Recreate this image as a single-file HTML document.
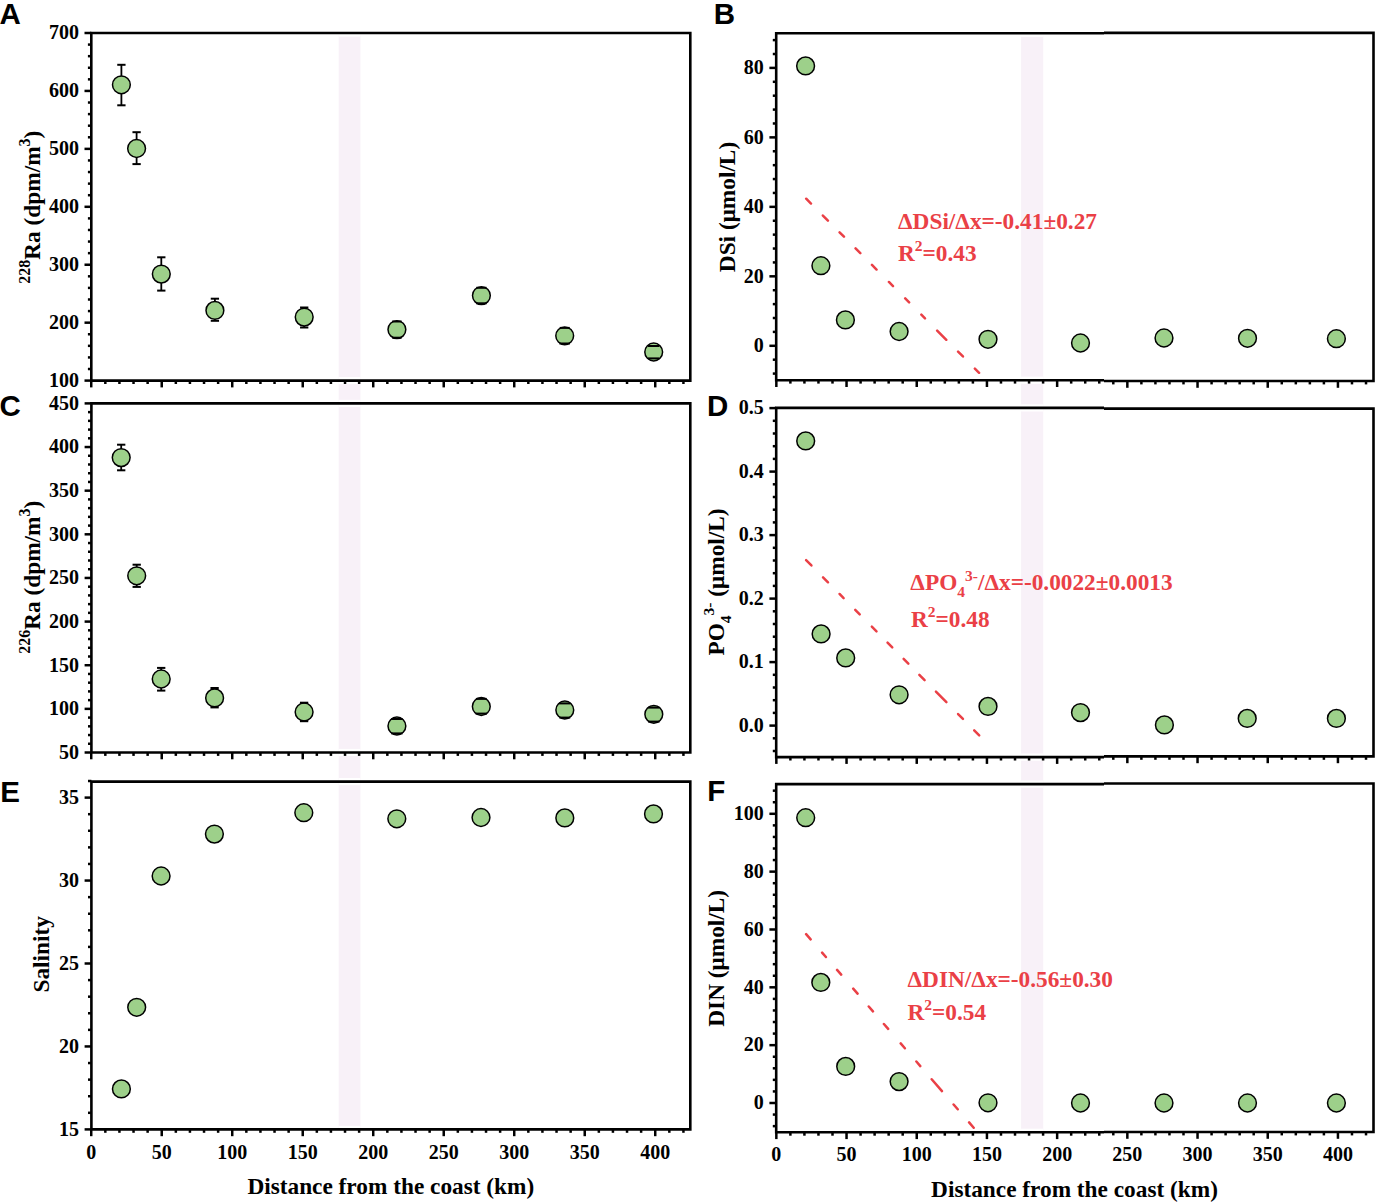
<!DOCTYPE html><html><head><meta charset="utf-8"><title>Figure</title><style>html,body{margin:0;padding:0;background:#fff;}svg{display:block;}</style></head><body>
<svg width="1375" height="1202" viewBox="0 0 1375 1202">
<rect x="0" y="0" width="1375" height="1202" fill="#fff"/>
<rect x="338.7" y="35.5" width="21.7" height="1094" fill="#f8f1f8"/>
<rect x="1021.1" y="35.5" width="22.1" height="1097" fill="#f8f1f8"/>
<rect x="338.7" y="29.4" width="21.7" height="7.2" fill="#fff"/>
<rect x="338.7" y="377" width="21.7" height="7.2" fill="#fff"/>
<rect x="1021.1" y="29.7" width="22.1" height="7.2" fill="#fff"/>
<rect x="1021.1" y="376.6" width="22.1" height="7.2" fill="#fff"/>
<rect x="338.7" y="399.8" width="21.7" height="7.2" fill="#fff"/>
<rect x="338.7" y="748.9" width="21.7" height="7.2" fill="#fff"/>
<rect x="1021.1" y="404.3" width="22.1" height="7.2" fill="#fff"/>
<rect x="1021.1" y="753.5" width="22.1" height="7.2" fill="#fff"/>
<rect x="338.7" y="778" width="21.7" height="7.2" fill="#fff"/>
<rect x="338.7" y="1125.8" width="21.7" height="7.2" fill="#fff"/>
<rect x="1021.1" y="780.5" width="22.1" height="7.2" fill="#fff"/>
<rect x="1021.1" y="1128.7" width="22.1" height="7.2" fill="#fff"/>
<rect x="330" y="1131" width="40" height="80" fill="#fff"/>
<rect x="1015" y="1134" width="40" height="80" fill="#fff"/>
<path d="M91.3 33H690.3V380.6H91.3Z" fill="none" stroke="#000" stroke-width="2.6" stroke-linejoin="miter"/>
<g stroke="#000" stroke-width="2.5" fill="none"><line x1="84.5" y1="380.6" x2="91.3" y2="380.6"/><line x1="87.9" y1="369.01" x2="91.3" y2="369.01"/><line x1="87.9" y1="357.43" x2="91.3" y2="357.43"/><line x1="87.9" y1="345.84" x2="91.3" y2="345.84"/><line x1="87.9" y1="334.25" x2="91.3" y2="334.25"/><line x1="84.5" y1="322.67" x2="91.3" y2="322.67"/><line x1="87.9" y1="311.08" x2="91.3" y2="311.08"/><line x1="87.9" y1="299.49" x2="91.3" y2="299.49"/><line x1="87.9" y1="287.91" x2="91.3" y2="287.91"/><line x1="87.9" y1="276.32" x2="91.3" y2="276.32"/><line x1="84.5" y1="264.73" x2="91.3" y2="264.73"/><line x1="87.9" y1="253.15" x2="91.3" y2="253.15"/><line x1="87.9" y1="241.56" x2="91.3" y2="241.56"/><line x1="87.9" y1="229.97" x2="91.3" y2="229.97"/><line x1="87.9" y1="218.39" x2="91.3" y2="218.39"/><line x1="84.5" y1="206.8" x2="91.3" y2="206.8"/><line x1="87.9" y1="195.21" x2="91.3" y2="195.21"/><line x1="87.9" y1="183.63" x2="91.3" y2="183.63"/><line x1="87.9" y1="172.04" x2="91.3" y2="172.04"/><line x1="87.9" y1="160.45" x2="91.3" y2="160.45"/><line x1="84.5" y1="148.87" x2="91.3" y2="148.87"/><line x1="87.9" y1="137.28" x2="91.3" y2="137.28"/><line x1="87.9" y1="125.69" x2="91.3" y2="125.69"/><line x1="87.9" y1="114.11" x2="91.3" y2="114.11"/><line x1="87.9" y1="102.52" x2="91.3" y2="102.52"/><line x1="84.5" y1="90.93" x2="91.3" y2="90.93"/><line x1="87.9" y1="79.35" x2="91.3" y2="79.35"/><line x1="87.9" y1="67.76" x2="91.3" y2="67.76"/><line x1="87.9" y1="56.17" x2="91.3" y2="56.17"/><line x1="87.9" y1="44.59" x2="91.3" y2="44.59"/><line x1="84.5" y1="33" x2="91.3" y2="33"/><line x1="91.23" y1="380.6" x2="91.23" y2="387.4"/><line x1="105.33" y1="380.6" x2="105.33" y2="384"/><line x1="119.43" y1="380.6" x2="119.43" y2="384"/><line x1="133.53" y1="380.6" x2="133.53" y2="384"/><line x1="147.63" y1="380.6" x2="147.63" y2="384"/><line x1="161.73" y1="380.6" x2="161.73" y2="387.4"/><line x1="175.83" y1="380.6" x2="175.83" y2="384"/><line x1="189.93" y1="380.6" x2="189.93" y2="384"/><line x1="204.03" y1="380.6" x2="204.03" y2="384"/><line x1="218.13" y1="380.6" x2="218.13" y2="384"/><line x1="232.23" y1="380.6" x2="232.23" y2="387.4"/><line x1="246.33" y1="380.6" x2="246.33" y2="384"/><line x1="260.43" y1="380.6" x2="260.43" y2="384"/><line x1="274.53" y1="380.6" x2="274.53" y2="384"/><line x1="288.63" y1="380.6" x2="288.63" y2="384"/><line x1="302.73" y1="380.6" x2="302.73" y2="387.4"/><line x1="316.83" y1="380.6" x2="316.83" y2="384"/><line x1="330.93" y1="380.6" x2="330.93" y2="384"/><line x1="345.03" y1="380.6" x2="345.03" y2="384"/><line x1="359.13" y1="380.6" x2="359.13" y2="384"/><line x1="373.23" y1="380.6" x2="373.23" y2="387.4"/><line x1="387.33" y1="380.6" x2="387.33" y2="384"/><line x1="401.43" y1="380.6" x2="401.43" y2="384"/><line x1="415.53" y1="380.6" x2="415.53" y2="384"/><line x1="429.63" y1="380.6" x2="429.63" y2="384"/><line x1="443.73" y1="380.6" x2="443.73" y2="387.4"/><line x1="457.83" y1="380.6" x2="457.83" y2="384"/><line x1="471.93" y1="380.6" x2="471.93" y2="384"/><line x1="486.03" y1="380.6" x2="486.03" y2="384"/><line x1="500.13" y1="380.6" x2="500.13" y2="384"/><line x1="514.23" y1="380.6" x2="514.23" y2="387.4"/><line x1="528.33" y1="380.6" x2="528.33" y2="384"/><line x1="542.43" y1="380.6" x2="542.43" y2="384"/><line x1="556.53" y1="380.6" x2="556.53" y2="384"/><line x1="570.63" y1="380.6" x2="570.63" y2="384"/><line x1="584.73" y1="380.6" x2="584.73" y2="387.4"/><line x1="598.83" y1="380.6" x2="598.83" y2="384"/><line x1="612.93" y1="380.6" x2="612.93" y2="384"/><line x1="627.03" y1="380.6" x2="627.03" y2="384"/><line x1="641.13" y1="380.6" x2="641.13" y2="384"/><line x1="655.23" y1="380.6" x2="655.23" y2="387.4"/><line x1="669.33" y1="380.6" x2="669.33" y2="384"/><line x1="683.43" y1="380.6" x2="683.43" y2="384"/></g>
<g font-family='"Liberation Serif", serif' font-weight="bold" font-size="20" text-anchor="end" fill="#000"><text x="78.9" y="39.3">700</text><text x="78.9" y="97.23">600</text><text x="78.9" y="155.17">500</text><text x="78.9" y="213.1">400</text><text x="78.9" y="271.03">300</text><text x="78.9" y="328.97">200</text><text x="78.9" y="386.9">100</text></g>
<path d="M774.9 33.3H1104M1104 32.85H1373.5V381M1374.8 381H1104M1104 380.2H776.2V33.3" fill="none" stroke="#000" stroke-width="2.6" stroke-linejoin="miter"/>
<g stroke="#000" stroke-width="2.5" fill="none"><line x1="772.8" y1="373.59" x2="776.2" y2="373.59"/><line x1="772.8" y1="359.69" x2="776.2" y2="359.69"/><line x1="769.4" y1="345.8" x2="776.2" y2="345.8"/><line x1="772.8" y1="331.9" x2="776.2" y2="331.9"/><line x1="772.8" y1="318.01" x2="776.2" y2="318.01"/><line x1="772.8" y1="304.12" x2="776.2" y2="304.12"/><line x1="772.8" y1="290.22" x2="776.2" y2="290.22"/><line x1="769.4" y1="276.33" x2="776.2" y2="276.33"/><line x1="772.8" y1="262.43" x2="776.2" y2="262.43"/><line x1="772.8" y1="248.53" x2="776.2" y2="248.53"/><line x1="772.8" y1="234.64" x2="776.2" y2="234.64"/><line x1="772.8" y1="220.74" x2="776.2" y2="220.74"/><line x1="769.4" y1="206.85" x2="776.2" y2="206.85"/><line x1="772.8" y1="192.95" x2="776.2" y2="192.95"/><line x1="772.8" y1="179.06" x2="776.2" y2="179.06"/><line x1="772.8" y1="165.16" x2="776.2" y2="165.16"/><line x1="772.8" y1="151.27" x2="776.2" y2="151.27"/><line x1="769.4" y1="137.38" x2="776.2" y2="137.38"/><line x1="772.8" y1="123.48" x2="776.2" y2="123.48"/><line x1="772.8" y1="109.59" x2="776.2" y2="109.59"/><line x1="772.8" y1="95.69" x2="776.2" y2="95.69"/><line x1="772.8" y1="81.8" x2="776.2" y2="81.8"/><line x1="769.4" y1="67.9" x2="776.2" y2="67.9"/><line x1="772.8" y1="54.01" x2="776.2" y2="54.01"/><line x1="772.8" y1="40.11" x2="776.2" y2="40.11"/><line x1="776.34" y1="380.2" x2="776.34" y2="387"/><line x1="790.38" y1="380.2" x2="790.38" y2="383.6"/><line x1="804.42" y1="380.2" x2="804.42" y2="383.6"/><line x1="818.46" y1="380.2" x2="818.46" y2="383.6"/><line x1="832.5" y1="380.2" x2="832.5" y2="383.6"/><line x1="846.54" y1="380.2" x2="846.54" y2="387"/><line x1="860.58" y1="380.2" x2="860.58" y2="383.6"/><line x1="874.62" y1="380.2" x2="874.62" y2="383.6"/><line x1="888.66" y1="380.2" x2="888.66" y2="383.6"/><line x1="902.7" y1="380.2" x2="902.7" y2="383.6"/><line x1="916.74" y1="380.2" x2="916.74" y2="387"/><line x1="930.78" y1="380.2" x2="930.78" y2="383.6"/><line x1="944.82" y1="380.2" x2="944.82" y2="383.6"/><line x1="958.86" y1="380.2" x2="958.86" y2="383.6"/><line x1="972.9" y1="380.2" x2="972.9" y2="383.6"/><line x1="986.94" y1="380.2" x2="986.94" y2="387"/><line x1="1000.98" y1="380.2" x2="1000.98" y2="383.6"/><line x1="1015.02" y1="380.2" x2="1015.02" y2="383.6"/><line x1="1029.06" y1="380.2" x2="1029.06" y2="383.6"/><line x1="1043.1" y1="380.2" x2="1043.1" y2="383.6"/><line x1="1057.14" y1="380.2" x2="1057.14" y2="387"/><line x1="1071.18" y1="380.2" x2="1071.18" y2="383.6"/><line x1="1085.22" y1="380.2" x2="1085.22" y2="383.6"/><line x1="1099.26" y1="380.2" x2="1099.26" y2="383.6"/><line x1="1113.3" y1="381" x2="1113.3" y2="384.4"/><line x1="1127.34" y1="381" x2="1127.34" y2="387.8"/><line x1="1141.38" y1="381" x2="1141.38" y2="384.4"/><line x1="1155.42" y1="381" x2="1155.42" y2="384.4"/><line x1="1169.46" y1="381" x2="1169.46" y2="384.4"/><line x1="1183.5" y1="381" x2="1183.5" y2="384.4"/><line x1="1197.54" y1="381" x2="1197.54" y2="387.8"/><line x1="1211.58" y1="381" x2="1211.58" y2="384.4"/><line x1="1225.62" y1="381" x2="1225.62" y2="384.4"/><line x1="1239.66" y1="381" x2="1239.66" y2="384.4"/><line x1="1253.7" y1="381" x2="1253.7" y2="384.4"/><line x1="1267.74" y1="381" x2="1267.74" y2="387.8"/><line x1="1281.78" y1="381" x2="1281.78" y2="384.4"/><line x1="1295.82" y1="381" x2="1295.82" y2="384.4"/><line x1="1309.86" y1="381" x2="1309.86" y2="384.4"/><line x1="1323.9" y1="381" x2="1323.9" y2="384.4"/><line x1="1337.94" y1="381" x2="1337.94" y2="387.8"/><line x1="1351.98" y1="381" x2="1351.98" y2="384.4"/><line x1="1366.02" y1="381" x2="1366.02" y2="384.4"/></g>
<g font-family='"Liberation Serif", serif' font-weight="bold" font-size="20" text-anchor="end" fill="#000"><text x="763.8" y="74.2">80</text><text x="763.8" y="143.68">60</text><text x="763.8" y="213.15">40</text><text x="763.8" y="282.63">20</text><text x="763.8" y="352.1">0</text></g>
<path d="M91.4 403.4H690.3V752.5H91.4Z" fill="none" stroke="#000" stroke-width="2.6" stroke-linejoin="miter"/>
<g stroke="#000" stroke-width="2.5" fill="none"><line x1="84.6" y1="752.5" x2="91.4" y2="752.5"/><line x1="88" y1="743.77" x2="91.4" y2="743.77"/><line x1="88" y1="735.04" x2="91.4" y2="735.04"/><line x1="88" y1="726.32" x2="91.4" y2="726.32"/><line x1="88" y1="717.59" x2="91.4" y2="717.59"/><line x1="84.6" y1="708.86" x2="91.4" y2="708.86"/><line x1="88" y1="700.13" x2="91.4" y2="700.13"/><line x1="88" y1="691.41" x2="91.4" y2="691.41"/><line x1="88" y1="682.68" x2="91.4" y2="682.68"/><line x1="88" y1="673.95" x2="91.4" y2="673.95"/><line x1="84.6" y1="665.22" x2="91.4" y2="665.22"/><line x1="88" y1="656.5" x2="91.4" y2="656.5"/><line x1="88" y1="647.77" x2="91.4" y2="647.77"/><line x1="88" y1="639.04" x2="91.4" y2="639.04"/><line x1="88" y1="630.31" x2="91.4" y2="630.31"/><line x1="84.6" y1="621.59" x2="91.4" y2="621.59"/><line x1="88" y1="612.86" x2="91.4" y2="612.86"/><line x1="88" y1="604.13" x2="91.4" y2="604.13"/><line x1="88" y1="595.4" x2="91.4" y2="595.4"/><line x1="88" y1="586.68" x2="91.4" y2="586.68"/><line x1="84.6" y1="577.95" x2="91.4" y2="577.95"/><line x1="88" y1="569.22" x2="91.4" y2="569.22"/><line x1="88" y1="560.5" x2="91.4" y2="560.5"/><line x1="88" y1="551.77" x2="91.4" y2="551.77"/><line x1="88" y1="543.04" x2="91.4" y2="543.04"/><line x1="84.6" y1="534.31" x2="91.4" y2="534.31"/><line x1="88" y1="525.59" x2="91.4" y2="525.59"/><line x1="88" y1="516.86" x2="91.4" y2="516.86"/><line x1="88" y1="508.13" x2="91.4" y2="508.13"/><line x1="88" y1="499.4" x2="91.4" y2="499.4"/><line x1="84.6" y1="490.67" x2="91.4" y2="490.67"/><line x1="88" y1="481.95" x2="91.4" y2="481.95"/><line x1="88" y1="473.22" x2="91.4" y2="473.22"/><line x1="88" y1="464.49" x2="91.4" y2="464.49"/><line x1="88" y1="455.76" x2="91.4" y2="455.76"/><line x1="84.6" y1="447.04" x2="91.4" y2="447.04"/><line x1="88" y1="438.31" x2="91.4" y2="438.31"/><line x1="88" y1="429.58" x2="91.4" y2="429.58"/><line x1="88" y1="420.85" x2="91.4" y2="420.85"/><line x1="88" y1="412.13" x2="91.4" y2="412.13"/><line x1="84.6" y1="403.4" x2="91.4" y2="403.4"/><line x1="91.23" y1="752.5" x2="91.23" y2="759.3"/><line x1="105.33" y1="752.5" x2="105.33" y2="755.9"/><line x1="119.43" y1="752.5" x2="119.43" y2="755.9"/><line x1="133.53" y1="752.5" x2="133.53" y2="755.9"/><line x1="147.63" y1="752.5" x2="147.63" y2="755.9"/><line x1="161.73" y1="752.5" x2="161.73" y2="759.3"/><line x1="175.83" y1="752.5" x2="175.83" y2="755.9"/><line x1="189.93" y1="752.5" x2="189.93" y2="755.9"/><line x1="204.03" y1="752.5" x2="204.03" y2="755.9"/><line x1="218.13" y1="752.5" x2="218.13" y2="755.9"/><line x1="232.23" y1="752.5" x2="232.23" y2="759.3"/><line x1="246.33" y1="752.5" x2="246.33" y2="755.9"/><line x1="260.43" y1="752.5" x2="260.43" y2="755.9"/><line x1="274.53" y1="752.5" x2="274.53" y2="755.9"/><line x1="288.63" y1="752.5" x2="288.63" y2="755.9"/><line x1="302.73" y1="752.5" x2="302.73" y2="759.3"/><line x1="316.83" y1="752.5" x2="316.83" y2="755.9"/><line x1="330.93" y1="752.5" x2="330.93" y2="755.9"/><line x1="345.03" y1="752.5" x2="345.03" y2="755.9"/><line x1="359.13" y1="752.5" x2="359.13" y2="755.9"/><line x1="373.23" y1="752.5" x2="373.23" y2="759.3"/><line x1="387.33" y1="752.5" x2="387.33" y2="755.9"/><line x1="401.43" y1="752.5" x2="401.43" y2="755.9"/><line x1="415.53" y1="752.5" x2="415.53" y2="755.9"/><line x1="429.63" y1="752.5" x2="429.63" y2="755.9"/><line x1="443.73" y1="752.5" x2="443.73" y2="759.3"/><line x1="457.83" y1="752.5" x2="457.83" y2="755.9"/><line x1="471.93" y1="752.5" x2="471.93" y2="755.9"/><line x1="486.03" y1="752.5" x2="486.03" y2="755.9"/><line x1="500.13" y1="752.5" x2="500.13" y2="755.9"/><line x1="514.23" y1="752.5" x2="514.23" y2="759.3"/><line x1="528.33" y1="752.5" x2="528.33" y2="755.9"/><line x1="542.43" y1="752.5" x2="542.43" y2="755.9"/><line x1="556.53" y1="752.5" x2="556.53" y2="755.9"/><line x1="570.63" y1="752.5" x2="570.63" y2="755.9"/><line x1="584.73" y1="752.5" x2="584.73" y2="759.3"/><line x1="598.83" y1="752.5" x2="598.83" y2="755.9"/><line x1="612.93" y1="752.5" x2="612.93" y2="755.9"/><line x1="627.03" y1="752.5" x2="627.03" y2="755.9"/><line x1="641.13" y1="752.5" x2="641.13" y2="755.9"/><line x1="655.23" y1="752.5" x2="655.23" y2="759.3"/><line x1="669.33" y1="752.5" x2="669.33" y2="755.9"/><line x1="683.43" y1="752.5" x2="683.43" y2="755.9"/></g>
<g font-family='"Liberation Serif", serif' font-weight="bold" font-size="20" text-anchor="end" fill="#000"><text x="79" y="409.7">450</text><text x="79" y="453.34">400</text><text x="79" y="496.97">350</text><text x="79" y="540.61">300</text><text x="79" y="584.25">250</text><text x="79" y="627.89">200</text><text x="79" y="671.52">150</text><text x="79" y="715.16">100</text><text x="79" y="758.8">50</text></g>
<path d="M774.9 407.9H1104M1104 408.6H1373.5V756.4M1374.8 756.4H1104M1104 757.1H776.2V407.9" fill="none" stroke="#000" stroke-width="2.6" stroke-linejoin="miter"/>
<g stroke="#000" stroke-width="2.5" fill="none"><line x1="772.8" y1="751" x2="776.2" y2="751"/><line x1="772.8" y1="738.3" x2="776.2" y2="738.3"/><line x1="769.4" y1="725.6" x2="776.2" y2="725.6"/><line x1="772.8" y1="712.9" x2="776.2" y2="712.9"/><line x1="772.8" y1="700.2" x2="776.2" y2="700.2"/><line x1="772.8" y1="687.5" x2="776.2" y2="687.5"/><line x1="772.8" y1="674.8" x2="776.2" y2="674.8"/><line x1="769.4" y1="662.1" x2="776.2" y2="662.1"/><line x1="772.8" y1="649.4" x2="776.2" y2="649.4"/><line x1="772.8" y1="636.7" x2="776.2" y2="636.7"/><line x1="772.8" y1="624" x2="776.2" y2="624"/><line x1="772.8" y1="611.3" x2="776.2" y2="611.3"/><line x1="769.4" y1="598.6" x2="776.2" y2="598.6"/><line x1="772.8" y1="585.9" x2="776.2" y2="585.9"/><line x1="772.8" y1="573.2" x2="776.2" y2="573.2"/><line x1="772.8" y1="560.5" x2="776.2" y2="560.5"/><line x1="772.8" y1="547.8" x2="776.2" y2="547.8"/><line x1="769.4" y1="535.1" x2="776.2" y2="535.1"/><line x1="772.8" y1="522.4" x2="776.2" y2="522.4"/><line x1="772.8" y1="509.7" x2="776.2" y2="509.7"/><line x1="772.8" y1="497" x2="776.2" y2="497"/><line x1="772.8" y1="484.3" x2="776.2" y2="484.3"/><line x1="769.4" y1="471.6" x2="776.2" y2="471.6"/><line x1="772.8" y1="458.9" x2="776.2" y2="458.9"/><line x1="772.8" y1="446.2" x2="776.2" y2="446.2"/><line x1="772.8" y1="433.5" x2="776.2" y2="433.5"/><line x1="772.8" y1="420.8" x2="776.2" y2="420.8"/><line x1="769.4" y1="408.1" x2="776.2" y2="408.1"/><line x1="776.34" y1="757.1" x2="776.34" y2="763.9"/><line x1="790.38" y1="757.1" x2="790.38" y2="760.5"/><line x1="804.42" y1="757.1" x2="804.42" y2="760.5"/><line x1="818.46" y1="757.1" x2="818.46" y2="760.5"/><line x1="832.5" y1="757.1" x2="832.5" y2="760.5"/><line x1="846.54" y1="757.1" x2="846.54" y2="763.9"/><line x1="860.58" y1="757.1" x2="860.58" y2="760.5"/><line x1="874.62" y1="757.1" x2="874.62" y2="760.5"/><line x1="888.66" y1="757.1" x2="888.66" y2="760.5"/><line x1="902.7" y1="757.1" x2="902.7" y2="760.5"/><line x1="916.74" y1="757.1" x2="916.74" y2="763.9"/><line x1="930.78" y1="757.1" x2="930.78" y2="760.5"/><line x1="944.82" y1="757.1" x2="944.82" y2="760.5"/><line x1="958.86" y1="757.1" x2="958.86" y2="760.5"/><line x1="972.9" y1="757.1" x2="972.9" y2="760.5"/><line x1="986.94" y1="757.1" x2="986.94" y2="763.9"/><line x1="1000.98" y1="757.1" x2="1000.98" y2="760.5"/><line x1="1015.02" y1="757.1" x2="1015.02" y2="760.5"/><line x1="1029.06" y1="757.1" x2="1029.06" y2="760.5"/><line x1="1043.1" y1="757.1" x2="1043.1" y2="760.5"/><line x1="1057.14" y1="757.1" x2="1057.14" y2="763.9"/><line x1="1071.18" y1="757.1" x2="1071.18" y2="760.5"/><line x1="1085.22" y1="757.1" x2="1085.22" y2="760.5"/><line x1="1099.26" y1="757.1" x2="1099.26" y2="760.5"/><line x1="1113.3" y1="756.4" x2="1113.3" y2="759.8"/><line x1="1127.34" y1="756.4" x2="1127.34" y2="763.2"/><line x1="1141.38" y1="756.4" x2="1141.38" y2="759.8"/><line x1="1155.42" y1="756.4" x2="1155.42" y2="759.8"/><line x1="1169.46" y1="756.4" x2="1169.46" y2="759.8"/><line x1="1183.5" y1="756.4" x2="1183.5" y2="759.8"/><line x1="1197.54" y1="756.4" x2="1197.54" y2="763.2"/><line x1="1211.58" y1="756.4" x2="1211.58" y2="759.8"/><line x1="1225.62" y1="756.4" x2="1225.62" y2="759.8"/><line x1="1239.66" y1="756.4" x2="1239.66" y2="759.8"/><line x1="1253.7" y1="756.4" x2="1253.7" y2="759.8"/><line x1="1267.74" y1="756.4" x2="1267.74" y2="763.2"/><line x1="1281.78" y1="756.4" x2="1281.78" y2="759.8"/><line x1="1295.82" y1="756.4" x2="1295.82" y2="759.8"/><line x1="1309.86" y1="756.4" x2="1309.86" y2="759.8"/><line x1="1323.9" y1="756.4" x2="1323.9" y2="759.8"/><line x1="1337.94" y1="756.4" x2="1337.94" y2="763.2"/><line x1="1351.98" y1="756.4" x2="1351.98" y2="759.8"/><line x1="1366.02" y1="756.4" x2="1366.02" y2="759.8"/></g>
<g font-family='"Liberation Serif", serif' font-weight="bold" font-size="20" text-anchor="end" fill="#000"><text x="763.8" y="414.4">0.5</text><text x="763.8" y="477.9">0.4</text><text x="763.8" y="541.4">0.3</text><text x="763.8" y="604.9">0.2</text><text x="763.8" y="668.4">0.1</text><text x="763.8" y="731.9">0.0</text></g>
<path d="M91.4 781.6H690.3V1129.4H91.4Z" fill="none" stroke="#000" stroke-width="2.6" stroke-linejoin="miter"/>
<g stroke="#000" stroke-width="2.5" fill="none"><line x1="84.6" y1="1129.4" x2="91.4" y2="1129.4"/><line x1="88" y1="1112.81" x2="91.4" y2="1112.81"/><line x1="88" y1="1096.22" x2="91.4" y2="1096.22"/><line x1="88" y1="1079.63" x2="91.4" y2="1079.63"/><line x1="88" y1="1063.04" x2="91.4" y2="1063.04"/><line x1="84.6" y1="1046.45" x2="91.4" y2="1046.45"/><line x1="88" y1="1029.86" x2="91.4" y2="1029.86"/><line x1="88" y1="1013.27" x2="91.4" y2="1013.27"/><line x1="88" y1="996.68" x2="91.4" y2="996.68"/><line x1="88" y1="980.09" x2="91.4" y2="980.09"/><line x1="84.6" y1="963.5" x2="91.4" y2="963.5"/><line x1="88" y1="946.91" x2="91.4" y2="946.91"/><line x1="88" y1="930.32" x2="91.4" y2="930.32"/><line x1="88" y1="913.73" x2="91.4" y2="913.73"/><line x1="88" y1="897.14" x2="91.4" y2="897.14"/><line x1="84.6" y1="880.55" x2="91.4" y2="880.55"/><line x1="88" y1="863.96" x2="91.4" y2="863.96"/><line x1="88" y1="847.37" x2="91.4" y2="847.37"/><line x1="88" y1="830.78" x2="91.4" y2="830.78"/><line x1="88" y1="814.19" x2="91.4" y2="814.19"/><line x1="84.6" y1="797.6" x2="91.4" y2="797.6"/><line x1="88" y1="781.01" x2="91.4" y2="781.01"/><line x1="91.23" y1="1129.4" x2="91.23" y2="1136.2"/><line x1="105.33" y1="1129.4" x2="105.33" y2="1132.8"/><line x1="119.43" y1="1129.4" x2="119.43" y2="1132.8"/><line x1="133.53" y1="1129.4" x2="133.53" y2="1132.8"/><line x1="147.63" y1="1129.4" x2="147.63" y2="1132.8"/><line x1="161.73" y1="1129.4" x2="161.73" y2="1136.2"/><line x1="175.83" y1="1129.4" x2="175.83" y2="1132.8"/><line x1="189.93" y1="1129.4" x2="189.93" y2="1132.8"/><line x1="204.03" y1="1129.4" x2="204.03" y2="1132.8"/><line x1="218.13" y1="1129.4" x2="218.13" y2="1132.8"/><line x1="232.23" y1="1129.4" x2="232.23" y2="1136.2"/><line x1="246.33" y1="1129.4" x2="246.33" y2="1132.8"/><line x1="260.43" y1="1129.4" x2="260.43" y2="1132.8"/><line x1="274.53" y1="1129.4" x2="274.53" y2="1132.8"/><line x1="288.63" y1="1129.4" x2="288.63" y2="1132.8"/><line x1="302.73" y1="1129.4" x2="302.73" y2="1136.2"/><line x1="316.83" y1="1129.4" x2="316.83" y2="1132.8"/><line x1="330.93" y1="1129.4" x2="330.93" y2="1132.8"/><line x1="345.03" y1="1129.4" x2="345.03" y2="1132.8"/><line x1="359.13" y1="1129.4" x2="359.13" y2="1132.8"/><line x1="373.23" y1="1129.4" x2="373.23" y2="1136.2"/><line x1="387.33" y1="1129.4" x2="387.33" y2="1132.8"/><line x1="401.43" y1="1129.4" x2="401.43" y2="1132.8"/><line x1="415.53" y1="1129.4" x2="415.53" y2="1132.8"/><line x1="429.63" y1="1129.4" x2="429.63" y2="1132.8"/><line x1="443.73" y1="1129.4" x2="443.73" y2="1136.2"/><line x1="457.83" y1="1129.4" x2="457.83" y2="1132.8"/><line x1="471.93" y1="1129.4" x2="471.93" y2="1132.8"/><line x1="486.03" y1="1129.4" x2="486.03" y2="1132.8"/><line x1="500.13" y1="1129.4" x2="500.13" y2="1132.8"/><line x1="514.23" y1="1129.4" x2="514.23" y2="1136.2"/><line x1="528.33" y1="1129.4" x2="528.33" y2="1132.8"/><line x1="542.43" y1="1129.4" x2="542.43" y2="1132.8"/><line x1="556.53" y1="1129.4" x2="556.53" y2="1132.8"/><line x1="570.63" y1="1129.4" x2="570.63" y2="1132.8"/><line x1="584.73" y1="1129.4" x2="584.73" y2="1136.2"/><line x1="598.83" y1="1129.4" x2="598.83" y2="1132.8"/><line x1="612.93" y1="1129.4" x2="612.93" y2="1132.8"/><line x1="627.03" y1="1129.4" x2="627.03" y2="1132.8"/><line x1="641.13" y1="1129.4" x2="641.13" y2="1132.8"/><line x1="655.23" y1="1129.4" x2="655.23" y2="1136.2"/><line x1="669.33" y1="1129.4" x2="669.33" y2="1132.8"/><line x1="683.43" y1="1129.4" x2="683.43" y2="1132.8"/></g>
<g font-family='"Liberation Serif", serif' font-weight="bold" font-size="20" text-anchor="end" fill="#000"><text x="79" y="803.9">35</text><text x="79" y="886.85">30</text><text x="79" y="969.8">25</text><text x="79" y="1052.75">20</text><text x="79" y="1135.7">15</text></g>
<path d="M774.9 784.1H1104M1104 783.5H1373.5V1132M1374.8 1132H1104M1104 1132.3H776.2V784.1" fill="none" stroke="#000" stroke-width="2.6" stroke-linejoin="miter"/>
<g stroke="#000" stroke-width="2.5" fill="none"><line x1="772.8" y1="1126.14" x2="776.2" y2="1126.14"/><line x1="772.8" y1="1114.57" x2="776.2" y2="1114.57"/><line x1="769.4" y1="1103" x2="776.2" y2="1103"/><line x1="772.8" y1="1091.43" x2="776.2" y2="1091.43"/><line x1="772.8" y1="1079.86" x2="776.2" y2="1079.86"/><line x1="772.8" y1="1068.3" x2="776.2" y2="1068.3"/><line x1="772.8" y1="1056.73" x2="776.2" y2="1056.73"/><line x1="769.4" y1="1045.16" x2="776.2" y2="1045.16"/><line x1="772.8" y1="1033.59" x2="776.2" y2="1033.59"/><line x1="772.8" y1="1022.02" x2="776.2" y2="1022.02"/><line x1="772.8" y1="1010.46" x2="776.2" y2="1010.46"/><line x1="772.8" y1="998.89" x2="776.2" y2="998.89"/><line x1="769.4" y1="987.32" x2="776.2" y2="987.32"/><line x1="772.8" y1="975.75" x2="776.2" y2="975.75"/><line x1="772.8" y1="964.18" x2="776.2" y2="964.18"/><line x1="772.8" y1="952.62" x2="776.2" y2="952.62"/><line x1="772.8" y1="941.05" x2="776.2" y2="941.05"/><line x1="769.4" y1="929.48" x2="776.2" y2="929.48"/><line x1="772.8" y1="917.91" x2="776.2" y2="917.91"/><line x1="772.8" y1="906.34" x2="776.2" y2="906.34"/><line x1="772.8" y1="894.78" x2="776.2" y2="894.78"/><line x1="772.8" y1="883.21" x2="776.2" y2="883.21"/><line x1="769.4" y1="871.64" x2="776.2" y2="871.64"/><line x1="772.8" y1="860.07" x2="776.2" y2="860.07"/><line x1="772.8" y1="848.5" x2="776.2" y2="848.5"/><line x1="772.8" y1="836.94" x2="776.2" y2="836.94"/><line x1="772.8" y1="825.37" x2="776.2" y2="825.37"/><line x1="769.4" y1="813.8" x2="776.2" y2="813.8"/><line x1="772.8" y1="802.23" x2="776.2" y2="802.23"/><line x1="772.8" y1="790.66" x2="776.2" y2="790.66"/><line x1="776.34" y1="1132.3" x2="776.34" y2="1139.1"/><line x1="790.38" y1="1132.3" x2="790.38" y2="1135.7"/><line x1="804.42" y1="1132.3" x2="804.42" y2="1135.7"/><line x1="818.46" y1="1132.3" x2="818.46" y2="1135.7"/><line x1="832.5" y1="1132.3" x2="832.5" y2="1135.7"/><line x1="846.54" y1="1132.3" x2="846.54" y2="1139.1"/><line x1="860.58" y1="1132.3" x2="860.58" y2="1135.7"/><line x1="874.62" y1="1132.3" x2="874.62" y2="1135.7"/><line x1="888.66" y1="1132.3" x2="888.66" y2="1135.7"/><line x1="902.7" y1="1132.3" x2="902.7" y2="1135.7"/><line x1="916.74" y1="1132.3" x2="916.74" y2="1139.1"/><line x1="930.78" y1="1132.3" x2="930.78" y2="1135.7"/><line x1="944.82" y1="1132.3" x2="944.82" y2="1135.7"/><line x1="958.86" y1="1132.3" x2="958.86" y2="1135.7"/><line x1="972.9" y1="1132.3" x2="972.9" y2="1135.7"/><line x1="986.94" y1="1132.3" x2="986.94" y2="1139.1"/><line x1="1000.98" y1="1132.3" x2="1000.98" y2="1135.7"/><line x1="1015.02" y1="1132.3" x2="1015.02" y2="1135.7"/><line x1="1029.06" y1="1132.3" x2="1029.06" y2="1135.7"/><line x1="1043.1" y1="1132.3" x2="1043.1" y2="1135.7"/><line x1="1057.14" y1="1132.3" x2="1057.14" y2="1139.1"/><line x1="1071.18" y1="1132.3" x2="1071.18" y2="1135.7"/><line x1="1085.22" y1="1132.3" x2="1085.22" y2="1135.7"/><line x1="1099.26" y1="1132.3" x2="1099.26" y2="1135.7"/><line x1="1113.3" y1="1132" x2="1113.3" y2="1135.4"/><line x1="1127.34" y1="1132" x2="1127.34" y2="1138.8"/><line x1="1141.38" y1="1132" x2="1141.38" y2="1135.4"/><line x1="1155.42" y1="1132" x2="1155.42" y2="1135.4"/><line x1="1169.46" y1="1132" x2="1169.46" y2="1135.4"/><line x1="1183.5" y1="1132" x2="1183.5" y2="1135.4"/><line x1="1197.54" y1="1132" x2="1197.54" y2="1138.8"/><line x1="1211.58" y1="1132" x2="1211.58" y2="1135.4"/><line x1="1225.62" y1="1132" x2="1225.62" y2="1135.4"/><line x1="1239.66" y1="1132" x2="1239.66" y2="1135.4"/><line x1="1253.7" y1="1132" x2="1253.7" y2="1135.4"/><line x1="1267.74" y1="1132" x2="1267.74" y2="1138.8"/><line x1="1281.78" y1="1132" x2="1281.78" y2="1135.4"/><line x1="1295.82" y1="1132" x2="1295.82" y2="1135.4"/><line x1="1309.86" y1="1132" x2="1309.86" y2="1135.4"/><line x1="1323.9" y1="1132" x2="1323.9" y2="1135.4"/><line x1="1337.94" y1="1132" x2="1337.94" y2="1138.8"/><line x1="1351.98" y1="1132" x2="1351.98" y2="1135.4"/><line x1="1366.02" y1="1132" x2="1366.02" y2="1135.4"/></g>
<g font-family='"Liberation Serif", serif' font-weight="bold" font-size="20" text-anchor="end" fill="#000"><text x="763.8" y="820.1">100</text><text x="763.8" y="877.94">80</text><text x="763.8" y="935.78">60</text><text x="763.8" y="993.62">40</text><text x="763.8" y="1051.46">20</text><text x="763.8" y="1109.3">0</text></g>
<g font-family='"Liberation Serif", serif' font-weight="bold" font-size="20" text-anchor="middle" fill="#000"><text x="91.23" y="1158.6">0</text><text x="161.73" y="1158.6">50</text><text x="232.23" y="1158.6">100</text><text x="302.73" y="1158.6">150</text><text x="373.23" y="1158.6">200</text><text x="443.73" y="1158.6">250</text><text x="514.23" y="1158.6">300</text><text x="584.73" y="1158.6">350</text><text x="655.23" y="1158.6">400</text></g>
<g font-family='"Liberation Serif", serif' font-weight="bold" font-size="20" text-anchor="middle" fill="#000"><text x="776.34" y="1161.3">0</text><text x="846.54" y="1161.3">50</text><text x="916.74" y="1161.3">100</text><text x="986.94" y="1161.3">150</text><text x="1057.14" y="1161.3">200</text><text x="1127.34" y="1161.3">250</text><text x="1197.54" y="1161.3">300</text><text x="1267.74" y="1161.3">350</text><text x="1337.94" y="1161.3">400</text></g>
<g stroke="#000" stroke-width="1.8"><line x1="121.4" y1="64.8" x2="121.4" y2="75.9"/><line x1="121.4" y1="93.7" x2="121.4" y2="105.3"/><line x1="136.6" y1="132.2" x2="136.6" y2="139.6"/><line x1="136.6" y1="157.4" x2="136.6" y2="164.1"/><line x1="161.3" y1="257.3" x2="161.3" y2="265.2"/><line x1="161.3" y1="283" x2="161.3" y2="290.6"/><line x1="214.9" y1="298.7" x2="214.9" y2="301.5"/><line x1="214.9" y1="319.3" x2="214.9" y2="320.8"/><line x1="304.2" y1="307.5" x2="304.2" y2="308.2"/><line x1="304.2" y1="326" x2="304.2" y2="327.5"/></g>
<g fill="#9dd08a" stroke="#000" stroke-width="1.5"><circle cx="121.4" cy="84.8" r="8.9"/><circle cx="136.6" cy="148.5" r="8.9"/><circle cx="161.3" cy="274.1" r="8.9"/><circle cx="214.9" cy="310.4" r="8.9"/><circle cx="304.2" cy="317.1" r="8.9"/><circle cx="396.9" cy="329.6" r="8.9"/><circle cx="481.4" cy="295.6" r="8.9"/><circle cx="564.7" cy="335.8" r="8.9"/><circle cx="653.7" cy="352" r="8.9"/></g>
<g stroke="#000" stroke-width="2"><line x1="117.25" y1="64.8" x2="125.55" y2="64.8"/><line x1="117.25" y1="105.3" x2="125.55" y2="105.3"/><line x1="132.45" y1="132.2" x2="140.75" y2="132.2"/><line x1="132.45" y1="164.1" x2="140.75" y2="164.1"/><line x1="157.15" y1="257.3" x2="165.45" y2="257.3"/><line x1="157.15" y1="290.6" x2="165.45" y2="290.6"/><line x1="210.75" y1="298.7" x2="219.05" y2="298.7"/><line x1="210.75" y1="320.8" x2="219.05" y2="320.8"/><line x1="300.05" y1="307.5" x2="308.35" y2="307.5"/><line x1="300.05" y1="327.5" x2="308.35" y2="327.5"/><line x1="392.15" y1="321.5" x2="401.65" y2="321.5"/><line x1="392.15" y1="337.7" x2="401.65" y2="337.7"/><line x1="476.22" y1="287.8" x2="486.58" y2="287.8"/><line x1="476.08" y1="303.3" x2="486.72" y2="303.3"/><line x1="559.66" y1="327.9" x2="569.74" y2="327.9"/><line x1="559.38" y1="343.5" x2="570.02" y2="343.5"/><line x1="647.95" y1="346" x2="659.45" y2="346"/><line x1="647.95" y1="358.4" x2="659.45" y2="358.4"/></g>
<g stroke="#000" stroke-width="1.8"><line x1="121.2" y1="444.7" x2="121.2" y2="448.7"/><line x1="121.2" y1="466.5" x2="121.2" y2="470.3"/><line x1="136.7" y1="564.7" x2="136.7" y2="566.9"/><line x1="136.7" y1="584.7" x2="136.7" y2="586.9"/><line x1="161.2" y1="667.9" x2="161.2" y2="670.1"/><line x1="161.2" y1="687.9" x2="161.2" y2="690.6"/><line x1="214.6" y1="688" x2="214.6" y2="689"/><line x1="214.6" y1="706.8" x2="214.6" y2="707.4"/><line x1="304.1" y1="702.7" x2="304.1" y2="703.1"/><line x1="304.1" y1="720.9" x2="304.1" y2="721.2"/></g>
<g fill="#9dd08a" stroke="#000" stroke-width="1.5"><circle cx="121.2" cy="457.6" r="8.9"/><circle cx="136.7" cy="575.8" r="8.9"/><circle cx="161.2" cy="679" r="8.9"/><circle cx="214.6" cy="697.9" r="8.9"/><circle cx="304.1" cy="712" r="8.9"/><circle cx="396.9" cy="726" r="8.9"/><circle cx="481.3" cy="706.5" r="8.9"/><circle cx="564.8" cy="710" r="8.9"/><circle cx="653.8" cy="714.3" r="8.9"/></g>
<g stroke="#000" stroke-width="2"><line x1="117.05" y1="444.7" x2="125.35" y2="444.7"/><line x1="117.05" y1="470.3" x2="125.35" y2="470.3"/><line x1="132.55" y1="564.7" x2="140.85" y2="564.7"/><line x1="132.55" y1="586.9" x2="140.85" y2="586.9"/><line x1="157.05" y1="667.9" x2="165.35" y2="667.9"/><line x1="157.05" y1="690.6" x2="165.35" y2="690.6"/><line x1="210.45" y1="688" x2="218.75" y2="688"/><line x1="210.45" y1="707.4" x2="218.75" y2="707.4"/><line x1="299.95" y1="702.7" x2="308.25" y2="702.7"/><line x1="299.95" y1="721.2" x2="308.25" y2="721.2"/><line x1="391.15" y1="719" x2="402.65" y2="719"/><line x1="391.21" y1="733.4" x2="402.59" y2="733.4"/><line x1="475.85" y1="698.9" x2="486.75" y2="698.9"/><line x1="475.55" y1="713.6" x2="487.05" y2="713.6"/><line x1="559.05" y1="703.4" x2="570.55" y2="703.4"/><line x1="559.35" y1="717.6" x2="570.25" y2="717.6"/><line x1="648.05" y1="707.6" x2="659.55" y2="707.6"/><line x1="648.05" y1="721.6" x2="659.55" y2="721.6"/></g>
<g fill="#9dd08a" stroke="#000" stroke-width="1.5"><circle cx="121.4" cy="1088.9" r="8.9"/><circle cx="136.7" cy="1007.3" r="8.9"/><circle cx="161.1" cy="876" r="8.9"/><circle cx="214.4" cy="834.1" r="8.9"/><circle cx="303.8" cy="812.7" r="8.9"/><circle cx="396.8" cy="818.8" r="8.9"/><circle cx="481" cy="817.5" r="8.9"/><circle cx="564.8" cy="817.9" r="8.9"/><circle cx="653.5" cy="813.9" r="8.9"/></g>
<g fill="#9dd08a" stroke="#000" stroke-width="1.5"><circle cx="805.6" cy="65.9" r="8.9"/><circle cx="820.9" cy="265.7" r="8.9"/><circle cx="845.4" cy="319.9" r="8.9"/><circle cx="899.1" cy="331.5" r="8.9"/><circle cx="988" cy="339.3" r="8.9"/><circle cx="1080.5" cy="343" r="8.9"/><circle cx="1164" cy="338" r="8.9"/><circle cx="1247.5" cy="338.3" r="8.9"/><circle cx="1336.4" cy="338.7" r="8.9"/></g>
<g fill="#9dd08a" stroke="#000" stroke-width="1.5"><circle cx="805.7" cy="440.9" r="8.9"/><circle cx="821.1" cy="633.9" r="8.9"/><circle cx="845.7" cy="657.9" r="8.9"/><circle cx="899.1" cy="694.8" r="8.9"/><circle cx="988" cy="706.4" r="8.9"/><circle cx="1080.5" cy="712.6" r="8.9"/><circle cx="1164.4" cy="724.9" r="8.9"/><circle cx="1247.2" cy="718.4" r="8.9"/><circle cx="1336.4" cy="718.4" r="8.9"/></g>
<g fill="#9dd08a" stroke="#000" stroke-width="1.5"><circle cx="805.7" cy="817.7" r="8.9"/><circle cx="820.8" cy="982.4" r="8.9"/><circle cx="845.7" cy="1066.4" r="8.9"/><circle cx="899.1" cy="1081.6" r="8.9"/><circle cx="988" cy="1102.8" r="8.9"/><circle cx="1080.5" cy="1103" r="8.9"/><circle cx="1164" cy="1103" r="8.9"/><circle cx="1247.5" cy="1103" r="8.9"/><circle cx="1336.4" cy="1103" r="8.9"/></g>
<path d="M806.2 198.71L810.98 203.52M822.89 215.51L827.92 220.58M839.58 232.32L843.96 236.73M855.58 248.43L860.31 253.19M871.97 264.93L876.55 269.54M888.92 281.99L893 286.1M905.21 298.4L909.14 302.36M921.36 314.65L924.99 318.31M937.15 330.55L946.31 339.78M958.08 351.63L962.91 356.49M974.87 368.53L979.1 372.79" stroke="#ea4046" stroke-width="2.5" stroke-linecap="round" fill="none"/>
<path d="M806.09 560.11L811.41 565.49M823.04 577.27L828 582.29M839.54 593.97L843.61 598.09M855.24 609.87L859.71 614.39M871.83 626.67L876.5 631.4M887.54 642.57L892.25 647.35M903.63 658.87L908.35 663.65M919.34 674.77L924.6 680.1M935.94 691.58L946.41 702.18M958.09 714.01L962.96 718.94M974.19 730.31L979.21 735.39" stroke="#ea4046" stroke-width="2.5" stroke-linecap="round" fill="none"/>
<path d="M806.11 934.19L810.64 939.41M822.09 952.63L825.91 957.05M837.07 969.94L841.18 974.68M853.21 988.58L857.57 993.61M868.76 1006.54L872.95 1011.37M883.91 1024.03L888.15 1028.92M900.69 1043.42L904.86 1048.23M916.38 1061.54L920.3 1066.06M931.7 1079.22L941.97 1091.09M953.6 1104.51L957.73 1109.28M969.1 1122.42L973.69 1127.71" stroke="#ea4046" stroke-width="2.5" stroke-linecap="round" fill="none"/>
<text x="898" y="228.8" font-family='"Liberation Serif", serif' font-weight="bold" font-size="23.3" fill="#ea4046">&#916;DSi/&#916;x=-0.41&#177;0.27</text>
<text x="898" y="261.2" font-family='"Liberation Serif", serif' font-weight="bold" font-size="23.3" fill="#ea4046">R<tspan dy="-9.9" font-size="15.5">2</tspan><tspan dy="9.9">=0.43</tspan></text>
<text x="910.3" y="590.3" font-family='"Liberation Serif", serif' font-weight="bold" font-size="23.3" fill="#ea4046">&#916;PO<tspan dy="6.2" font-size="15.5">4</tspan><tspan dy="-15.7" font-size="15.5">3-</tspan><tspan dy="9.5">/&#916;x=-0.0022&#177;0.0013</tspan></text>
<text x="911" y="626.8" font-family='"Liberation Serif", serif' font-weight="bold" font-size="23.3" fill="#ea4046">R<tspan dy="-9.9" font-size="15.5">2</tspan><tspan dy="9.9">=0.48</tspan></text>
<text x="907.5" y="987.2" font-family='"Liberation Serif", serif' font-weight="bold" font-size="23.3" fill="#ea4046">&#916;DIN/&#916;x=-0.56&#177;0.30</text>
<text x="907.5" y="1019.6" font-family='"Liberation Serif", serif' font-weight="bold" font-size="23.3" fill="#ea4046">R<tspan dy="-9.9" font-size="15.5">2</tspan><tspan dy="9.9">=0.54</tspan></text>
<text transform="translate(40,207.2) rotate(-90)" text-anchor="middle" font-family='"Liberation Serif", serif' font-weight="bold" font-size="23.3" fill="#000"><tspan font-size="16" dy="-9.8">228</tspan><tspan dy="9.8">Ra (dpm/m</tspan><tspan font-size="16" dy="-9.8">3</tspan><tspan dy="9.8">)</tspan></text>
<text transform="translate(40,577.3) rotate(-90)" text-anchor="middle" font-family='"Liberation Serif", serif' font-weight="bold" font-size="23.3" fill="#000"><tspan font-size="16" dy="-9.8">226</tspan><tspan dy="9.8">Ra (dpm/m</tspan><tspan font-size="16" dy="-9.8">3</tspan><tspan dy="9.8">)</tspan></text>
<text transform="translate(49,954.3) rotate(-90)" text-anchor="middle" font-family='"Liberation Serif", serif' font-weight="bold" font-size="23.3" fill="#000">Salinity</text>
<text transform="translate(734.7,207) rotate(-90)" text-anchor="middle" font-family='"Liberation Serif", serif' font-weight="bold" font-size="23.3" fill="#000">DSi (&#956;mol/L)</text>
<text transform="translate(724,582) rotate(-90)" text-anchor="middle" font-family='"Liberation Serif", serif' font-weight="bold" font-size="23.3" fill="#000">PO<tspan font-size="15.5" dy="6.6">4</tspan><tspan font-size="15.5" dy="-16.3">3-</tspan><tspan dy="9.7"> (&#956;mol/L)</tspan></text>
<text transform="translate(724,958.3) rotate(-90)" text-anchor="middle" font-family='"Liberation Serif", serif' font-weight="bold" font-size="23.3" fill="#000">DIN (&#956;mol/L)</text>
<text x="390.8" y="1193.8" text-anchor="middle" font-family='"Liberation Serif", serif' font-weight="bold" font-size="23.3" fill="#000">Distance from the coast (km)</text>
<text x="1074.5" y="1196.6" text-anchor="middle" font-family='"Liberation Serif", serif' font-weight="bold" font-size="23.3" fill="#000">Distance from the coast (km)</text>
<text x="-0.6" y="24" font-family='"Liberation Sans", sans-serif' font-weight="bold" font-size="29.5" fill="#000">A</text>
<text x="713.8" y="24" font-family='"Liberation Sans", sans-serif' font-weight="bold" font-size="29.5" fill="#000">B</text>
<text x="-0.6" y="415.7" font-family='"Liberation Sans", sans-serif' font-weight="bold" font-size="29.5" fill="#000">C</text>
<text x="707" y="415.8" font-family='"Liberation Sans", sans-serif' font-weight="bold" font-size="29.5" fill="#000">D</text>
<text x="0.3" y="802" font-family='"Liberation Sans", sans-serif' font-weight="bold" font-size="29.5" fill="#000">E</text>
<text x="707.2" y="801.2" font-family='"Liberation Sans", sans-serif' font-weight="bold" font-size="29.5" fill="#000">F</text>
</svg></body></html>
